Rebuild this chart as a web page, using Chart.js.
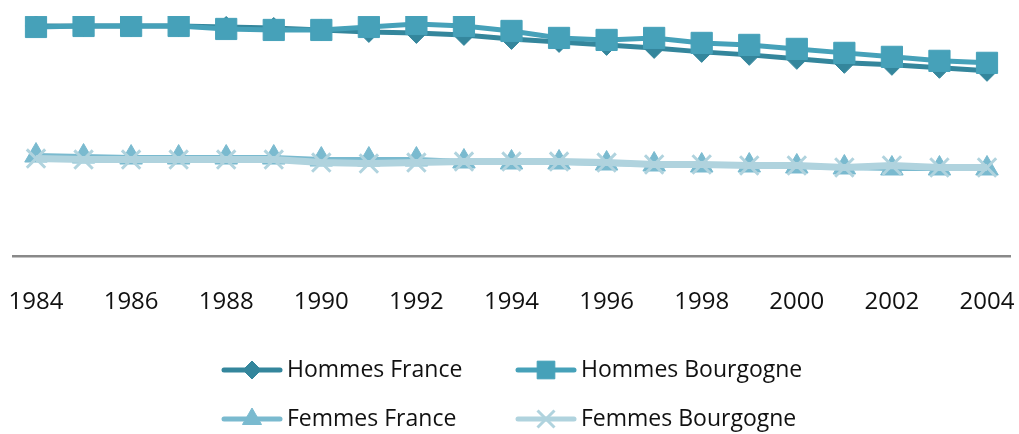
<!DOCTYPE html>
<html>
<head>
<meta charset="utf-8">
<script src="https://cdn.jsdelivr.net/npm/chart.js@4"></script>
<style>
    html, body { margin: 0; padding: 0; background: #ffffff; }
    #chart { display: block; }
</style>
</head>
<body>
<canvas id="chart" width="1019" height="434"></canvas>
<script>
// years on the x axis, only every other one is labelled
const years = [
    "1984", "1985", "1986", "1987", "1988", "1989", "1990", "1991", "1992", "1993", "1994",
    "1995", "1996", "1997", "1998", "1999", "2000", "2001", "2002", "2003", "2004",
];

const hommesFrance = [231, 231, 231, 231, 230, 229, 227, 225, 224, 222, 218, 215, 212, 209, 205, 202, 198, 194, 192, 189, 186];
const hommesBourgogne = [230, 231, 231, 231, 228, 227, 227, 230, 233, 231, 226, 219, 217, 219, 214, 212, 208, 204, 200, 196, 194];
const femmesFrance = [101, 100, 99, 99, 99, 99, 97, 97, 97, 95, 94, 94, 93, 92, 91, 91, 90, 89, 88, 88, 88];
const femmesBourgogne = [98, 97, 97, 97, 97, 97, 94, 93, 94, 95, 95, 95, 94, 92, 92, 91, 91, 89, 91, 89, 89];

const yMin = 0;
const yMax = 241;

const FONT = "'Open Sans', 'Noto Sans', sans-serif";

// axis line runs wider than the plot area, like in the original
const axisLine = {
    id: "axisLine",
    beforeDatasetsDraw(chart) {
        const ctx = chart.ctx;
        const y = chart.scales.y.getPixelForValue(yMin);
        ctx.save();
        ctx.strokeStyle = "#898989";
        ctx.lineWidth = 2.5;
        ctx.beginPath();
        ctx.moveTo(12, y);
        ctx.lineTo(1011, y);
        ctx.stroke();
        ctx.restore();
    },
};

// legend in two rows of two, line + marker + text
const gridLegend = {
    id: "gridLegend",
    afterDraw(chart) {
        const ctx = chart.ctx;
        const slots = [
            { idx: 0, x: 224, y: 370, r: 9 },
            { idx: 1, x: 518, y: 370, r: 12.5 },
            { idx: 2, x: 224, y: 419, r: 11 },
            { idx: 3, x: 518, y: 419, r: 12 },
        ];
        slots.forEach((s) => {
            const ds = chart.data.datasets[s.idx];
            const lineLen = 56;
            ctx.save();
            ctx.strokeStyle = ds.borderColor;
            ctx.lineWidth = 5;
            ctx.lineCap = "round";
            ctx.beginPath();
            ctx.moveTo(s.x, s.y);
            ctx.lineTo(s.x + lineLen, s.y);
            ctx.stroke();
            ctx.restore();

            ctx.save();
            ctx.fillStyle = ds.pointBackgroundColor;
            ctx.strokeStyle = ds.pointBorderColor;
            ctx.lineWidth = ds.pointBorderWidth;
            Chart.helpers.drawPoint(ctx, { pointStyle: ds.pointStyle, radius: s.r, rotation: 0, borderWidth: ds.pointBorderWidth }, s.x + lineLen / 2, s.y);
            ctx.restore();

            ctx.save();
            ctx.fillStyle = "#111111";
            ctx.font = "23px " + FONT;
            ctx.textBaseline = "middle";
            ctx.fillText(ds.label, s.x + lineLen + 7, s.y);
            ctx.restore();
        });
    },
};

new Chart(document.getElementById("chart"), {
    type: "line",
    data: {
        labels: years,
        datasets: [
            {
                label: "Hommes France",
                data: hommesFrance,
                borderColor: "#34869C",
                backgroundColor: "#34869C",
                pointBackgroundColor: "#34869C",
                pointBorderColor: "#34869C",
                pointBorderWidth: 1,
                pointStyle: "rectRot",
                pointRadius: 10.5,
                borderWidth: 5,
                order: 4,
            },
            {
                label: "Hommes Bourgogne",
                data: hommesBourgogne,
                borderColor: "#46A1B9",
                backgroundColor: "#46A1B9",
                pointBackgroundColor: "#46A1B9",
                pointBorderColor: "#46A1B9",
                pointBorderWidth: 1,
                pointStyle: "rect",
                pointRadius: 15,
                borderWidth: 5,
                order: 3,
            },
            {
                label: "Femmes France",
                data: femmesFrance,
                borderColor: "#7ABACF",
                backgroundColor: "#7ABACF",
                pointBackgroundColor: "#7ABACF",
                pointBorderColor: "#7ABACF",
                pointBorderWidth: 1,
                pointStyle: "triangle",
                pointRadius: 13,
                borderWidth: 5,
                order: 2,
            },
            {
                label: "Femmes Bourgogne",
                data: femmesBourgogne,
                borderColor: "#B0D3DE",
                backgroundColor: "#B0D3DE",
                pointBackgroundColor: "#B0D3DE",
                pointBorderColor: "#B0D3DE",
                pointBorderWidth: 3,
                pointStyle: "crossRot",
                pointRadius: 13,
                borderWidth: 7,
                order: 1,
            },
        ],
    },
    options: {
        responsive: false,
        animation: false,
        events: [],
        elements: { line: { tension: 0 } },
        layout: {
            padding: { left: 36, right: 32, top: 6, bottom: 85 },
        },
        scales: {
            x: {
                grid: { display: false, drawTicks: false },
                border: { display: false },
                afterFit: function (scale) {
                    scale.paddingLeft = 0;
                    scale.paddingRight = 0;
                    scale.paddingTop = 0;
                    scale.paddingBottom = 0;
                },
                ticks: {
                    autoSkip: false,
                    maxRotation: 0,
                    padding: 32,
                    color: "#111111",
                    font: { family: FONT, size: 24 },
                    callback: function (value, index) {
                        return index % 2 === 0 ? years[index] : "";
                    },
                },
            },
            y: {
                display: false,
                min: yMin,
                max: yMax,
            },
        },
        plugins: {
            legend: { display: false },
            tooltip: { enabled: false },
        },
    },
    plugins: [axisLine, gridLegend],
});
</script>
</body>
</html>
